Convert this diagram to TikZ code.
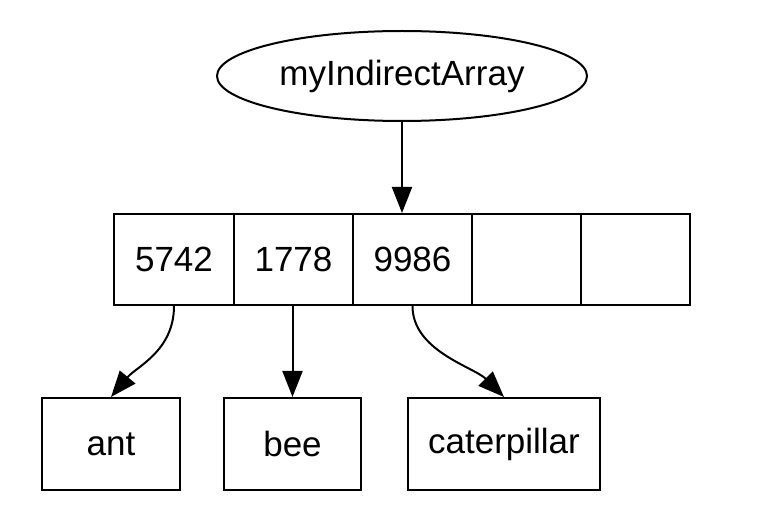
\documentclass[tikz,border=0pt]{standalone}
\usepackage{fontspec}
\setmainfont{Liberation Sans}
\usetikzlibrary{arrows.meta,shapes.geometric}
\begin{document}
\begin{tikzpicture}[x=0.5pt,y=-0.5pt,
  every node/.style={font=\fontsize{17.5pt}{20pt}\selectfont, inner sep=0pt},
  cell/.style={draw, line width=1pt, rectangle, minimum height=45.5pt},
  leaf/.style={draw, line width=1pt, rectangle, minimum height=46pt},
  oval/.style={draw, line width=1pt, ellipse, minimum width=185pt, minimum height=45pt},
  ptr/.style={line width=1pt, -{Triangle[length=13pt,width=10pt]}}]
\useasboundingbox (0,0) rectangle (768,524);
\fill[white] (0,0) rectangle (768,524);
\node[oval] (arr) at (402,76) {myIndirectArray};
\node[cell, minimum width=60pt] (c1) at (174,259.5) {5742};
\node[cell, minimum width=59.5pt] (c2) at (293.5,259.5) {1778};
\node[cell, minimum width=59.5pt] (c3) at (412.5,259.5) {9986};
\node[cell, minimum width=54.5pt] (c4) at (526.5,259.5) {};
\node[cell, minimum width=54.5pt] (c5) at (635.5,259.5) {};
\node[leaf, minimum width=69pt] (ant) at (111,444) {ant};
\node[leaf, minimum width=68.5pt] (bee) at (292.5,444) {bee};
\node[leaf, minimum width=96pt] (cat) at (504,444) {caterpillar};
\draw[ptr] (arr.south) -- (arr.south |- c3.north);
\draw[ptr] (c1.south) .. controls +(0,45) and +(25,-30) .. (ant.north);
\draw[ptr] (c2.south -| bee.north) -- (bee.north);
\draw[ptr] (c3.south) .. controls +(0,45) and +(-30,-30) .. (cat.north);
\end{tikzpicture}
\end{document}
